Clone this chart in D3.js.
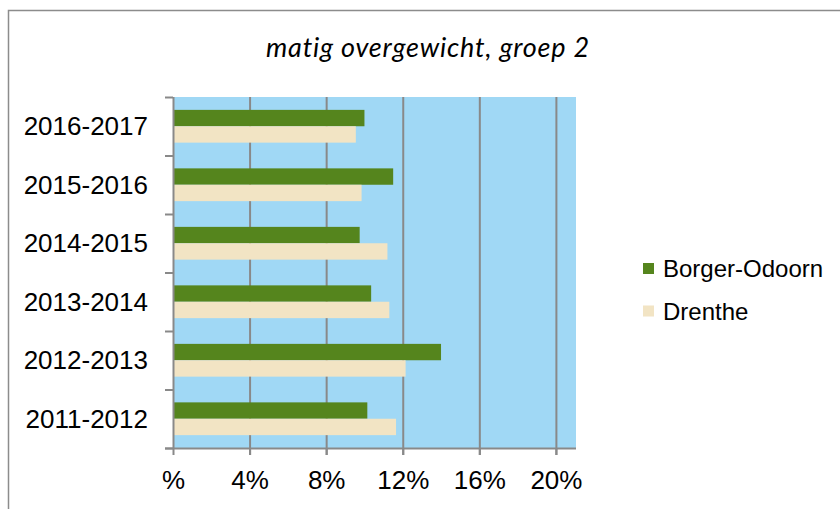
<!DOCTYPE html>
<html>
<head>
<meta charset="utf-8">
<script src="https://cdn.jsdelivr.net/npm/d3@7"></script>
<style>
  body { margin:0; background:#fff; }
  text { font-family: "Liberation Sans", Arial, sans-serif; fill:#000; }
</style>
</head>
<body>
<div id="bar-chart"></div>
<script>
var categories = ["2016-2017","2015-2016","2014-2015","2013-2014","2012-2013","2011-2012"];
var series = ["Borger-Odoorn","Drenthe"];
var borgerOdoorn = [10.0, 11.5, 9.75, 10.35, 14.0, 10.15];
var drenthe = [9.55, 9.85, 11.2, 11.3, 12.15, 11.65];
var tickValues = [0,4,8,12,16,20];
var tickLabels = ["%","4%","8%","12%","16%","20%"];
var colors = ["#55851d","#f2e4c4"];

var width = 840, height = 509;
var margin = {left:173,top:97,right:264,bottom:61};
var plotW = width - margin.left - margin.right;
var plotH = height - margin.top - margin.bottom;

var data = categories.map(function(c,i){
  return {cat:c, values:[borgerOdoorn[i], drenthe[i]]};
});

var x = d3.scaleLinear()
          .domain([0,21.05])
          .range([0,plotW]);

var y = d3.scaleBand()
          .domain(categories)
          .range([0,plotH])
          .paddingInner(0.44)
          .paddingOuter(0.22);

var ySub = d3.scaleBand()
          .domain(series)
          .range([0,y.bandwidth()]);

var svg = d3.select("#bar-chart")
            .append("svg")
            .attr("width",width)
            .attr("height",height);

// chart border, runs off the picture on right and bottom
svg.append("rect")
   .attr("x",8.5).attr("y",10.5)
   .attr("width",900).attr("height",600)
   .attr("fill","none")
   .attr("stroke","#8c8c8c")
   .attr("stroke-width",1.5);

svg.append("text")
   .attr("x",428)
   .attr("y",57)
   .attr("text-anchor","middle")
   .style("font-family","Lato, sans-serif")
   .style("font-style","italic")
   .style("font-size","27px")
   .style("letter-spacing","0.8px")
   .text("matig overgewicht, groep 2");

var chartGroup = svg.append("g")
                    .attr("transform","translate(" + margin.left + "," + margin.top + ")");

chartGroup.append("rect")
          .attr("width",x(21.05))
          .attr("height",plotH)
          .attr("fill","#a0d8f5");

// vertical gridlines
chartGroup.append("g")
          .attr("class","grid")
          .call(d3.axisBottom(x)
              .tickValues(tickValues.slice(1))
              .tickSize(plotH + 7)
              .tickFormat(""))
          .call(function(g){
              g.select(".domain").remove();
              g.selectAll("line").attr("stroke","#898989").attr("stroke-width",2);
          });

var groups = chartGroup.selectAll(".cat")
          .data(data)
          .enter().append("g")
          .attr("class","cat")
          .attr("transform",function(d){ return "translate(0," + y(d.cat) + ")"; });

groups.selectAll("rect")
      .data(function(d){ return d.values.map(function(v,i){ return {s:series[i], v:v, c:colors[i]}; }); })
      .enter().append("rect")
      .attr("x",0)
      .attr("y",function(d){ return ySub(d.s); })
      .attr("width",function(d){ return x(d.v); })
      .attr("height",ySub.bandwidth())
      .attr("fill",function(d){ return d.c; });

// y axis: ticks at band boundaries
var yEdges = d3.scaleLinear().domain([0,categories.length]).range([0,plotH]);
chartGroup.append("g")
          .call(d3.axisLeft(yEdges)
              .ticks(categories.length)
              .tickSize(8)
              .tickFormat(""))
          .call(function(g){
              g.select(".domain").attr("stroke","#898989").attr("stroke-width",2).attr("d","M0.5,0V" + plotH);
              g.selectAll("line").attr("stroke","#898989").attr("stroke-width",2);
          });

chartGroup.selectAll(".ylabel")
          .data(categories)
          .enter().append("text")
          .attr("class","ylabel")
          .attr("x",-25)
          .attr("y",function(d){ return y(d) + y.bandwidth()/2 + 9; })
          .attr("text-anchor","end")
          .style("font-size","26px")
          .text(function(d){ return d; });

// x axis
chartGroup.append("g")
          .attr("transform","translate(0," + plotH + ")")
          .call(d3.axisBottom(x)
              .tickValues(tickValues)
              .tickSize(7)
              .tickSizeOuter(0)
              .tickPadding(16)
              .tickFormat(function(d,i){ return tickLabels[i]; }))
          .call(function(g){
              g.select(".domain").attr("stroke","#898989").attr("stroke-width",2).attr("d","M-8,0.5H" + x(21.05));
              g.selectAll("line").attr("stroke","#898989").attr("stroke-width",2);
              g.selectAll("text").style("font-size","26px").attr("fill","#000")
               .style("font-family","'Liberation Sans', Arial, sans-serif");
          });

// legend
var legend = svg.selectAll(".legend")
          .data(series)
          .enter().append("g")
          .attr("class","legend")
          .attr("transform",function(d,i){ return "translate(643," + (263 + i*42.5) + ")"; });

legend.append("rect")
      .attr("width",11)
      .attr("height",11)
      .attr("fill",function(d,i){ return colors[i]; });

legend.append("text")
      .attr("x",20)
      .attr("y",14)
      .style("font-size","24px")
      .text(function(d){ return d; });
</script>
</body>
</html>
